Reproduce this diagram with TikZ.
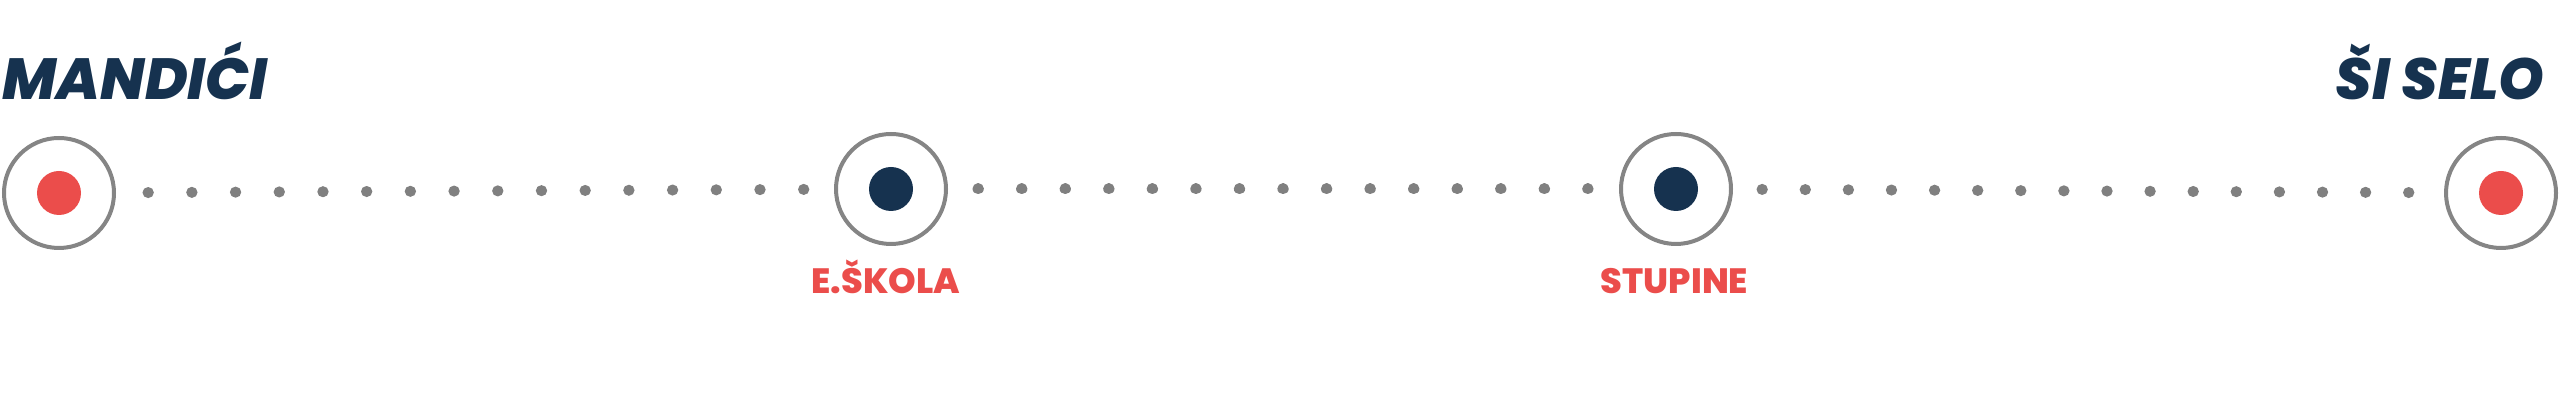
\documentclass[tikz,border=0pt]{standalone}
\usepackage{fontspec}
\usepackage{tikz}
\usetikzlibrary{positioning}
\newfontfamily\placefont{Poppins}[BoldFont={Poppins ExtraBold}, BoldItalicFont={Poppins ExtraBold Italic}]
\definecolor{navy}{HTML}{16324F}
\definecolor{stopred}{HTML}{EB4D4B}
\definecolor{ringgray}{HTML}{858585}
\definecolor{dotgray}{HTML}{808080}
\tikzstyle{dotline}=[dotgray, line width=0.11cm, line cap=round]

\begin{document}
\begin{tikzpicture}
            \tikzset {
                stop ring/.style={
                        circle,
                        draw=ringgray,
                        line width=0.04cm,
                        minimum size=1.1cm,
                        inner sep=0pt,
                        outer sep=0pt,
                        fill=white
                    },
                stop dot/.style={circle, minimum size=0.44cm, inner sep=0pt},
                title/.style={font=\placefont\bfseries\itshape\fontsize{16.5}{19}\selectfont, text=navy, inner sep=0pt},
                stop label/.style={font=\placefont\bfseries\fontsize{10}{12}\selectfont, text=stopred, inner sep=0pt, anchor=base}
            }

            \useasboundingbox (0,0) rectangle (25.6,-4.02);

            % end points
            \node[title, anchor=base west] (mandicititle) at (0.02,-1.00) {MANDIĆI};
            \node[title, anchor=base east] (siseltitle) at (25.45,-1.00) {ŠI SELO};

            % stops
            \node[stop ring] (mandici) at (0.59,-1.93) {};
            \node[stop ring] (eskola) at (8.91,-1.89) {};
            \node[stop ring] (stupine) at (16.76,-1.89) {};
            \node[stop ring] (sisel) at (25.01,-1.93) {};

            \node[stop dot, fill=stopred] (mandicidot) at (mandici) {};
            \node[stop dot, fill=navy] (eskoladot) at (eskola) {};
            \node[stop dot, fill=navy] (stupinedot) at (stupine) {};
            \node[stop dot, fill=stopred] (siseldot) at (sisel) {};

            % labels
            \node[stop label] (eskolalbl) at (8.86,-2.94) {E.ŠKOLA};
            \node[stop label] (stupinelbl) at (16.745,-2.94) {STUPINE};

            % dotted route
            \draw[dotline, dash pattern=on 0.1pt off 0.4335cm, shorten <=0.34cm, shorten >=0.32cm] (mandici) -- (eskola);
            \draw[dotline, dash pattern=on 0.1pt off 0.432cm, shorten <=0.32cm, shorten >=0.33cm] (eskola) -- (stupine);
            \draw[dotline, dash pattern=on 0.1pt off 0.4275cm, shorten <=0.31cm, shorten >=0.37cm] (stupine) -- (sisel);
        \end{tikzpicture}
\end{document}
